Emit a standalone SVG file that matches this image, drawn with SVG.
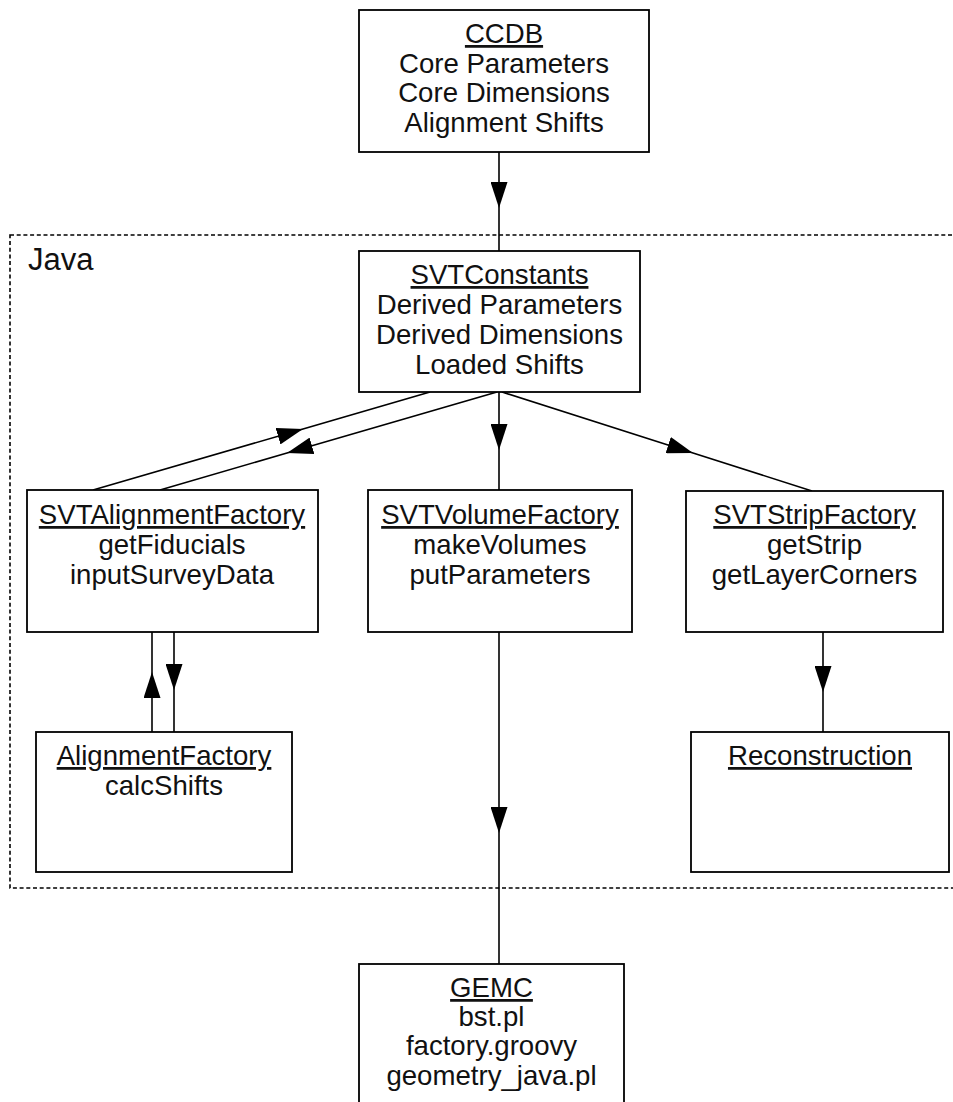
<svg xmlns="http://www.w3.org/2000/svg" width="953" height="1102" viewBox="0 0 953 1102">
  <style>
    .box { fill: #ffffff; stroke: #000000; stroke-width: 1.8; }
    .frame { fill: none; stroke: #000000; stroke-width: 1.6; stroke-dasharray: 4 2.7; }
    .link { fill: none; stroke: #000000; stroke-width: 1.6; marker-mid: url(#head); }
    text { font-family: "Liberation Sans", Arial, sans-serif; font-size: 27.6px; fill: #111111; text-anchor: middle; }
    .title { text-decoration: underline; }
    .label { font-size: 31px; text-anchor: start; }
  </style>
  <defs>
    <marker id="head" markerUnits="userSpaceOnUse" markerWidth="26" markerHeight="17" refX="26" refY="8.5" orient="auto">
      <path d="M0,0 L26,8.5 L0,17 Z" fill="#000000"/>
    </marker>
  </defs>

  <rect width="953" height="1102" fill="#ffffff"/>

  <!-- Java package frame -->
  <g id="java">
    <rect class="frame" x="10" y="235" width="960" height="653"/>
    <text class="label" x="28" y="270">Java</text>
  </g>

  <!-- connectors, arrowheads sit at the mid vertex -->
  <g id="connectors">
    <path class="link" d="M499,152 L499,208 L499,251"/>
    <path class="link" d="M499,392 L499,450 L499,490"/>
    <path class="link" d="M502,392 L693,453 L812,491"/>
    <path class="link" d="M93,490 L303,429 L430,392"/>
    <path class="link" d="M497,392 L287,453 L160,490"/>
    <path class="link" d="M152,732 L152,672 L152,632"/>
    <path class="link" d="M174,632 L174,690 L174,732"/>
    <path class="link" d="M823,632 L823,692 L823,732"/>
    <path class="link" d="M499,632 L499,833 L499,964"/>
  </g>

  <g id="ccdb">
    <rect class="box" x="359" y="10" width="290" height="142"/>
    <text class="title" x="504" y="43">CCDB</text>
    <text x="504" y="73">Core Parameters</text>
    <text x="504" y="102">Core Dimensions</text>
    <text x="504" y="132">Alignment Shifts</text>
  </g>

  <g id="svtconstants">
    <rect class="box" x="359" y="251" width="281" height="141"/>
    <text class="title" x="499.5" y="284">SVTConstants</text>
    <text x="499.5" y="314">Derived Parameters</text>
    <text x="499.5" y="344">Derived Dimensions</text>
    <text x="499.5" y="374">Loaded Shifts</text>
  </g>

  <g id="svtalignmentfactory">
    <rect class="box" x="27" y="490" width="291" height="142"/>
    <text class="title" x="172" y="524">SVTAlignmentFactory</text>
    <text x="172" y="554">getFiducials</text>
    <text x="172" y="584">inputSurveyData</text>
  </g>

  <g id="svtvolumefactory">
    <rect class="box" x="368" y="490" width="264" height="142"/>
    <text class="title" x="500" y="524">SVTVolumeFactory</text>
    <text x="500" y="554">makeVolumes</text>
    <text x="500" y="584">putParameters</text>
  </g>

  <g id="svtstripfactory">
    <rect class="box" x="686" y="491" width="257" height="141"/>
    <text class="title" x="814.5" y="524">SVTStripFactory</text>
    <text x="814.5" y="554">getStrip</text>
    <text x="814.5" y="584">getLayerCorners</text>
  </g>

  <g id="alignmentfactory">
    <rect class="box" x="36" y="732" width="256" height="140"/>
    <text class="title" x="164" y="765">AlignmentFactory</text>
    <text x="164" y="795">calcShifts</text>
  </g>

  <g id="reconstruction">
    <rect class="box" x="691" y="732" width="258" height="140"/>
    <text class="title" x="820" y="765">Reconstruction</text>
  </g>

  <g id="gemc">
    <rect class="box" x="359" y="964" width="265" height="160"/>
    <text class="title" x="491.5" y="997">GEMC</text>
    <text x="491.5" y="1026">bst.pl</text>
    <text x="491.5" y="1055">factory.groovy</text>
    <text x="491.5" y="1085">geometry_java.pl</text>
  </g>
</svg>
